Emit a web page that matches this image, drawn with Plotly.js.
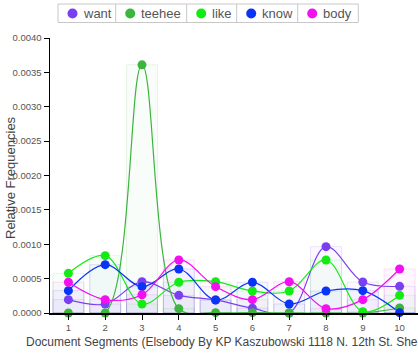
<!DOCTYPE html>
<html>
<head>
<meta charset="utf-8">
<script src="https://cdn.plot.ly/plotly-3.0.1.min.js"></script>
<style>html,body{margin:0;padding:0;background:#fff;}#chart{width:418px;height:357px;}</style>
</head>
<body>
<div id="chart"></div>
<script>
var segments = [1, 2, 3, 4, 5, 6, 7, 8, 9, 10];
var terms = ["want", "teehee", "like", "know", "body"];
var want   = [0.000194, 0.000130, 0.000455, 0.000257, 0.000190, 0.000070, 0.000000, 0.000965, 0.000451, 0.000388];
var teehee = [0.000000, 0.000000, 0.003610, 0.000063, 0.000005, 0.000005, 0.000000, 0.000000, 0.000000, 0.000073];
var like   = [0.000577, 0.000834, 0.000131, 0.000447, 0.000455, 0.000320, 0.000320, 0.000771, 0.000020, 0.000257];
var know   = [0.000325, 0.000703, 0.000383, 0.000640, 0.000189, 0.000447, 0.000131, 0.000320, 0.000325, 0.000005];
var body   = [0.000447, 0.000194, 0.000266, 0.000771, 0.000383, 0.000194, 0.000455, 0.000063, 0.000194, 0.000640];
var yTicks = [0, 0.0005, 0.001, 0.0015, 0.002, 0.0025, 0.003, 0.0035, 0.004];
var xTitle = "Document Segments (Elsebody By KP Kaszubowski 1118 N. 12th St. She";
var yTitle = "Relative Frequencies";

var series = [want, teehee, like, know, body];
var colors = ["#7b3ff2", "#3bb53b", "#12ec12", "#0a34f5", "#f20ff0"];
var rgba = ["rgba(123,63,242,", "rgba(59,181,59,", "rgba(18,236,18,", "rgba(10,52,245,", "rgba(242,15,240,"];

// plot-area geometry (pixels) used to place the custom legend box
var W = 418, H = 357, ML = 50, MR = 0, MT = 38, MB = 44;
var PW = W - ML - MR, PH = H - MT - MB;
function px(x) { return (x - ML) / PW; }
function py(y) { return (H - MB - y) / PH; }
var legendEdges = [58, 115.7, 186.7, 236.7, 297.7, 358.3];
var legendTop = 4, legendBottom = 22.5, legendMid = 13.5;

var traces = [];
for (var i = 0; i < terms.length; i++) {
  traces.push({
    type: "bar", x: segments, y: series[i], width: 0.84,
    marker: {color: rgba[i] + "0.03)", line: {color: rgba[i] + "0.12)", width: 1}},
    showlegend: false, hoverinfo: "skip"
  });
}
for (var i = 0; i < terms.length; i++) {
  traces.push({
    type: "scatter", mode: "lines", x: segments, y: series[i],
    line: {color: colors[i], width: 1.2, shape: "spline", smoothing: 1},
    showlegend: false, hoverinfo: "skip"
  });
}
for (var i = 0; i < terms.length; i++) {
  traces.push({
    type: "scatter", mode: "markers", name: terms[i], x: segments, y: series[i],
    marker: {color: colors[i], size: 9, line: {width: 0}},
    showlegend: false, cliponaxis: false
  });
}

var shapes = [{
  type: "rect", xref: "paper", yref: "paper",
  x0: px(legendEdges[0]), x1: px(legendEdges[legendEdges.length - 1]),
  y0: py(legendBottom), y1: py(legendTop),
  line: {color: "#c8c8c8", width: 1}, fillcolor: "#fff"
}];
var annotations = [];
for (var i = 0; i < terms.length; i++) {
  if (i > 0) {
    shapes.push({
      type: "line", xref: "paper", yref: "paper",
      x0: px(legendEdges[i]), x1: px(legendEdges[i]),
      y0: py(legendBottom), y1: py(legendTop),
      line: {color: "#c8c8c8", width: 1}
    });
  }
  var cx = legendEdges[i] + 14.5;
  shapes.push({
    type: "circle", xref: "paper", yref: "paper",
    xsizemode: "pixel", ysizemode: "pixel",
    xanchor: px(cx), yanchor: py(legendMid),
    x0: -5, x1: 5, y0: -5, y1: 5,
    fillcolor: colors[i], line: {width: 0}
  });
  annotations.push({
    text: terms[i], xref: "paper", yref: "paper",
    x: px(cx + 8.5), y: py(legendMid), xanchor: "left", yanchor: "middle",
    showarrow: false, font: {size: 13, color: "#555"}
  });
}
annotations.push({
  text: xTitle, xref: "paper", yref: "paper", x: px(24), y: py(333),
  xanchor: "left", yanchor: "top", showarrow: false,
  font: {size: 12, color: "#444"}
});
annotations.push({
  text: yTitle, xref: "paper", yref: "paper", x: px(11), y: py(178),
  xanchor: "center", yanchor: "middle", textangle: -90, showarrow: false,
  font: {size: 13, color: "#444"}
});

var layout = {
  width: W, height: H,
  margin: {l: ML, r: MR, t: MT, b: MB},
  paper_bgcolor: "#fff", plot_bgcolor: "#fff",
  font: {family: "Liberation Sans, Arial, sans-serif", color: "#555", size: 10},
  barmode: "overlay",
  showlegend: false,
  xaxis: {
    range: [0.5, 10.5], tickvals: segments, ticktext: segments.map(String),
    showline: true, linecolor: "#000", linewidth: 1.5,
    ticks: "outside", ticklen: 5, tickcolor: "#000",
    showgrid: false, zeroline: false, tickfont: {size: 9.5, color: "#555"}
  },
  yaxis: {
    range: [0, 0.004], tickvals: yTicks, tickformat: ".4f",
    showline: true, linecolor: "#000", linewidth: 1.5,
    ticks: "outside", ticklen: 5, tickcolor: "#000",
    showgrid: false, zeroline: false, tickfont: {size: 9.5, color: "#555"}
  },
  shapes: shapes,
  annotations: annotations
};

Plotly.newPlot("chart", traces, layout, {displayModeBar: false, staticPlot: true});
</script>
</body>
</html>
